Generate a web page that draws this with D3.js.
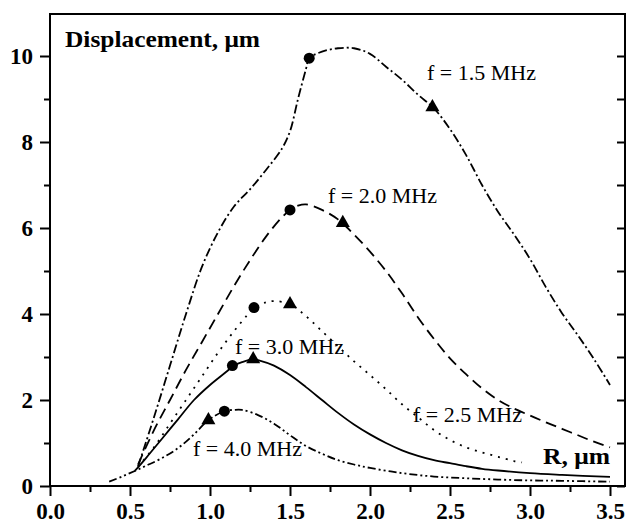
<!DOCTYPE html>
<html>
<head>
<meta charset="utf-8">
<script src="https://cdn.jsdelivr.net/npm/d3@7"></script>
<style>
  body { margin: 0; background: #fff; }
  svg { display: block; }
  text { font-family: "Liberation Serif", "Times New Roman", serif; fill: #000; }
</style>
</head>
<body>
<div id="chart"></div>
<script>
const WIDTH = 627;
const HEIGHT = 524;

// f = 1.5 MHz (dash-dot)
const r15 = [0.55, 0.65, 0.75, 0.85, 0.95, 1.05, 1.15, 1.25, 1.35, 1.45, 1.5, 1.55, 1.6, 1.62, 1.7, 1.8, 1.9, 2.0, 2.1, 2.2, 2.3, 2.4, 2.5, 2.6, 2.7, 2.8, 2.9, 3.0, 3.1, 3.2, 3.3, 3.4, 3.5];
const d15 = [0.45, 1.6, 2.8, 4.0, 5.1, 5.9, 6.5, 6.9, 7.35, 7.85, 8.25, 9.0, 9.7, 9.95, 10.1, 10.18, 10.18, 10.05, 9.75, 9.45, 9.1, 8.78, 8.3, 7.7, 7.0, 6.38, 5.85, 5.28, 4.62, 4.02, 3.5, 2.95, 2.35];

// f = 2.0 MHz (dashed)
const r20 = [0.55, 0.65, 0.75, 0.85, 0.95, 1.05, 1.15, 1.25, 1.35, 1.45, 1.5, 1.55, 1.6, 1.7, 1.8, 1.9, 2.0, 2.1, 2.2, 2.3, 2.4, 2.5, 2.6, 2.7, 2.8, 2.9, 3.0, 3.1, 3.2, 3.3, 3.4, 3.5];
const d20 = [0.5, 1.3, 2.0, 2.7, 3.35, 4.0, 4.65, 5.25, 5.8, 6.25, 6.42, 6.52, 6.55, 6.42, 6.2, 5.85, 5.45, 5.0, 4.48, 3.92, 3.42, 2.97, 2.6, 2.27, 2.0, 1.8, 1.64, 1.48, 1.33, 1.18, 1.03, 0.9];

// f = 2.5 MHz (dotted)
const r25 = [0.55, 0.65, 0.75, 0.85, 0.95, 1.05, 1.15, 1.25, 1.275, 1.35, 1.4, 1.5, 1.6, 1.7, 1.8, 1.9, 2.0, 2.1, 2.2, 2.3, 2.4, 2.5, 2.6, 2.7, 2.8, 2.9, 2.95];
const d25 = [0.45, 0.9, 1.45, 2.0, 2.55, 3.1, 3.6, 4.05, 4.15, 4.27, 4.3, 4.23, 3.95, 3.6, 3.25, 2.9, 2.58, 2.25, 1.9, 1.6, 1.3, 1.07, 0.9, 0.78, 0.68, 0.58, 0.55];

// f = 3.0 MHz (solid)
const r30 = [0.53, 0.6, 0.7, 0.8, 0.9, 1.0, 1.1, 1.15, 1.2, 1.27, 1.3, 1.4, 1.5, 1.6, 1.7, 1.8, 1.9, 2.0, 2.1, 2.2, 2.3, 2.4, 2.5, 2.6, 2.7, 2.8, 3.0, 3.2, 3.5];
const d30 = [0.35, 0.65, 1.1, 1.55, 2.0, 2.35, 2.65, 2.8, 2.88, 2.95, 2.93, 2.8, 2.58, 2.3, 2.0, 1.7, 1.43, 1.2, 1.0, 0.83, 0.7, 0.6, 0.53, 0.46, 0.4, 0.36, 0.3, 0.26, 0.21];

// f = 4.0 MHz (dash-dot-dot)
const r40 = [0.37, 0.45, 0.53, 0.6, 0.7, 0.8, 0.9, 0.99, 1.09, 1.15, 1.2, 1.3, 1.4, 1.5, 1.6, 1.7, 1.8, 1.9, 2.0, 2.2, 2.4, 2.6, 2.8, 3.0, 3.2, 3.5];
const d40 = [0.1, 0.22, 0.35, 0.47, 0.65, 0.88, 1.2, 1.53, 1.74, 1.77, 1.77, 1.65, 1.45, 1.18, 0.93, 0.75, 0.6, 0.5, 0.42, 0.3, 0.22, 0.18, 0.15, 0.13, 0.12, 0.1];

// marker points (circle and triangle) per curve: 1.5, 2.0, 2.5, 3.0, 4.0 MHz
const circleR = [1.62, 1.5, 1.275, 1.14, 1.09];
const circleD = [9.95, 6.42, 4.15, 2.8, 1.74];
const triR = [2.39, 1.83, 1.5, 1.27, 0.99];
const triD = [8.81, 6.12, 4.23, 2.95, 1.53];

const curveNames = ["f = 1.5 MHz", "f = 2.0 MHz", "f = 2.5 MHz", "f = 3.0 MHz", "f = 4.0 MHz"];

const xMajor = [0, 0.5, 1.0, 1.5, 2.0, 2.5, 3.0, 3.5];
const xMinor = [0.25, 0.75, 1.25, 1.75, 2.25, 2.75, 3.25];
const yMajor = [0, 2, 4, 6, 8, 10];
const yMinor = [1, 3, 5, 7, 9];

const LEFT = 50, RIGHT = 625, TOP = 14, BOTTOM = 486;

const x = d3.scaleLinear().domain([0, 575 / 160]).range([LEFT, RIGHT]);
const y = d3.scaleLinear().domain([0, 472 / 43]).range([BOTTOM, TOP]);

const svg = d3
  .select("#chart")
  .append("svg")
  .attr("width", WIDTH)
  .attr("height", HEIGHT);

const serif = "'Liberation Serif', 'Times New Roman', serif";

// axes
svg.append("g")
  .attr("transform", `translate(0, ${BOTTOM})`)
  .call(d3.axisBottom(x).tickValues(xMajor).tickSize(10).tickPadding(7).tickFormat(d3.format(".1f")))
  .call(g => g.select(".domain").remove())
  .call(g => g.selectAll("line").attr("stroke-width", 2))
  .call(g => g.selectAll("text").attr("font-size", 23).attr("font-weight", "bold").style("font-family", serif));

svg.append("g")
  .attr("transform", `translate(0, ${BOTTOM})`)
  .call(d3.axisBottom(x).tickValues(xMinor).tickSize(6).tickFormat(""))
  .call(g => g.select(".domain").remove())
  .call(g => g.selectAll("line").attr("stroke-width", 2));

svg.append("g")
  .attr("transform", `translate(${LEFT}, 0)`)
  .call(d3.axisLeft(y).tickValues(yMajor).tickSize(10).tickPadding(7))
  .call(g => g.select(".domain").remove())
  .call(g => g.selectAll("line").attr("stroke-width", 2))
  .call(g => g.selectAll("text").attr("font-size", 23).attr("font-weight", "bold").style("font-family", serif));

svg.append("g")
  .attr("transform", `translate(${LEFT}, 0)`)
  .call(d3.axisLeft(y).tickValues(yMinor).tickSize(6).tickFormat(""))
  .call(g => g.select(".domain").remove())
  .call(g => g.selectAll("line").attr("stroke-width", 2));

// right side ticks point inward
svg.append("g")
  .attr("transform", `translate(${RIGHT}, 0)`)
  .call(d3.axisLeft(y).tickValues(yMajor.concat(yMinor)).tickSize(8).tickFormat(""))
  .call(g => g.select(".domain").remove())
  .call(g => g.selectAll("line").attr("stroke-width", 2));

// frame
svg.append("rect")
  .attr("x", LEFT)
  .attr("y", TOP)
  .attr("width", RIGHT - LEFT)
  .attr("height", BOTTOM - TOP)
  .attr("fill", "none")
  .attr("stroke", "#000")
  .attr("stroke-width", 2);

// curves
const line = d3.line()
  .x(d => x(d[0]))
  .y(d => y(d[1]))
  .curve(d3.curveCatmullRom.alpha(0.5));

const series = [
  { r: r15, d: d15, dash: "9,3,2,3" },
  { r: r20, d: d20, dash: "11,6" },
  { r: r25, d: d25, dash: "2,6" },
  { r: r30, d: d30, dash: null },
  { r: r40, d: d40, dash: "8,3,2,3,2,3" }
];

series.forEach(s => {
  svg.append("path")
    .datum(s.r.map((v, i) => [v, s.d[i]]))
    .attr("d", line)
    .attr("fill", "none")
    .attr("stroke", "#000")
    .attr("stroke-width", 1.8)
    .attr("stroke-dasharray", s.dash);
});

svg.selectAll("circle.mark")
  .data(circleR)
  .enter()
  .append("circle")
  .attr("class", "mark")
  .attr("cx", d => x(d))
  .attr("cy", (d, i) => y(circleD[i]))
  .attr("r", 5.5)
  .attr("fill", "#000");

svg.selectAll("path.tri")
  .data(triR)
  .enter()
  .append("path")
  .attr("class", "tri")
  .attr("d", d3.symbol(d3.symbolTriangle, 85))
  .attr("transform", (d, i) => `translate(${x(d)}, ${y(triD[i])})`)
  .attr("fill", "#000");

// curve labels
const labelPos = [[427, 80], [328, 203], [413, 422], [235, 354], [193, 456]];
svg.selectAll("text.flabel")
  .data(curveNames)
  .enter()
  .append("text")
  .attr("class", "flabel")
  .attr("x", (d, i) => labelPos[i][0])
  .attr("y", (d, i) => labelPos[i][1])
  .attr("font-size", 22)
  .text(d => d);

// axis titles
svg.append("text")
  .attr("x", 65)
  .attr("y", 47)
  .attr("font-size", 24)
  .attr("font-weight", "bold")
  .attr("textLength", 195)
  .attr("lengthAdjust", "spacingAndGlyphs")
  .text("Displacement, \u03bcm");

svg.append("text")
  .attr("x", 543)
  .attr("y", 464)
  .attr("font-size", 24)
  .attr("font-weight", "bold")
  .attr("textLength", 67)
  .attr("lengthAdjust", "spacingAndGlyphs")
  .text("R, \u03bcm");
</script>
</body>
</html>
